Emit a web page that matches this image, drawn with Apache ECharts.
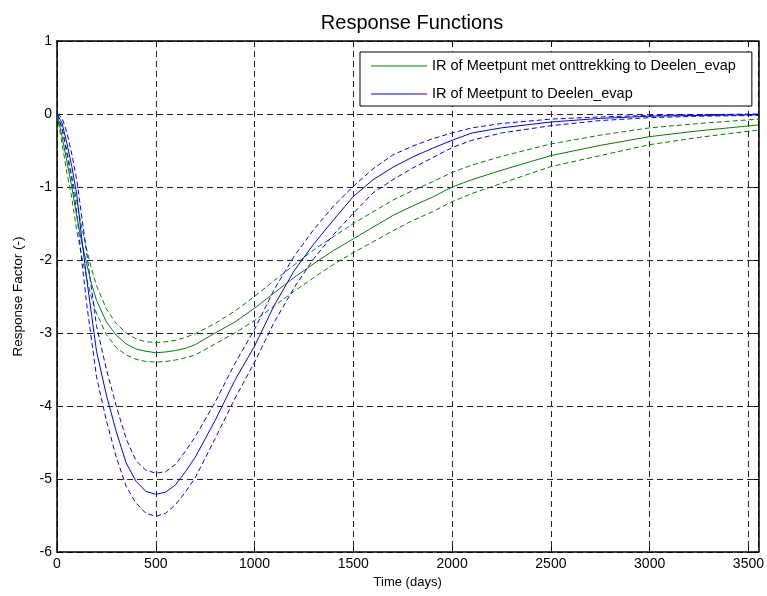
<!DOCTYPE html>
<html>
<head>
<meta charset="utf-8">
<script src="https://cdn.jsdelivr.net/npm/echarts@6/dist/echarts.min.js"></script>
<style>
  html, body { margin: 0; padding: 0; background: #fff; }
  #chart { width: 767px; height: 596px; }
</style>
</head>
<body>
<div id="chart"></div>
<script>
// Time axis of the impulse responses (days)
const days = [0, 25, 50, 75, 100, 125, 150, 175, 200, 250, 300, 350, 400, 450, 500, 550, 600, 650, 700,
  800, 900, 1000, 1100, 1200, 1300, 1400, 1500, 1600, 1700, 1800, 1900, 2000, 2100, 2250, 2500, 2750, 3000, 3250, 3550];

// IR of Meetpunt met onttrekking to Deelen_evap (mean and confidence bounds)
const irMetOnttrekking = [0, -0.3, -0.65, -1.0, -1.4, -1.75, -2.05, -2.33, -2.55, -2.85, -3.03, -3.15, -3.22, -3.25, -3.27, -3.26, -3.24, -3.21, -3.16,
  -3.0, -2.85, -2.66, -2.45, -2.24, -2.05, -1.87, -1.71, -1.55, -1.39, -1.26, -1.14, -1.0, -0.9, -0.77, -0.57, -0.43, -0.31, -0.23, -0.15];
const irMetOnttrekkingUpper = [0, -0.2, -0.5, -0.85, -1.2, -1.55, -1.85, -2.12, -2.35, -2.67, -2.87, -3.0, -3.08, -3.12, -3.13, -3.12, -3.1, -3.06, -3.01,
  -2.87, -2.7, -2.5, -2.28, -2.07, -1.86, -1.68, -1.5, -1.34, -1.18, -1.05, -0.93, -0.8, -0.7, -0.58, -0.41, -0.29, -0.19, -0.13, -0.07];
const irMetOnttrekkingLower = [0, -0.4, -0.8, -1.15, -1.6, -1.95, -2.25, -2.52, -2.73, -3.02, -3.2, -3.3, -3.36, -3.39, -3.4, -3.39, -3.37, -3.34, -3.3,
  -3.15, -3.0, -2.83, -2.63, -2.43, -2.24, -2.06, -1.9, -1.75, -1.6, -1.46, -1.34, -1.2, -1.09, -0.95, -0.72, -0.57, -0.42, -0.32, -0.22];

// IR of Meetpunt to Deelen_evap (mean and confidence bounds)
const irMeetpunt = [0, -0.12, -0.4, -0.72, -1.1, -1.7, -2.25, -2.75, -3.25, -3.85, -4.35, -4.78, -5.03, -5.17, -5.21, -5.18, -5.08, -4.9, -4.7,
  -4.2, -3.65, -3.18, -2.62, -2.15, -1.78, -1.45, -1.13, -0.9, -0.73, -0.59, -0.47, -0.36, -0.26, -0.19, -0.11, -0.06, -0.03, -0.02, -0.01];
const irMeetpuntUpper = [0, -0.05, -0.25, -0.55, -0.9, -1.4, -1.9, -2.4, -2.9, -3.5, -4.0, -4.45, -4.75, -4.88, -4.92, -4.9, -4.8, -4.62, -4.42,
  -3.95, -3.42, -2.95, -2.4, -1.95, -1.58, -1.26, -0.99, -0.75, -0.56, -0.44, -0.34, -0.26, -0.19, -0.13, -0.07, -0.04, -0.02, -0.01, 0];
const irMeetpuntLower = [0, -0.18, -0.55, -0.9, -1.35, -2.0, -2.6, -3.1, -3.6, -4.2, -4.7, -5.1, -5.33, -5.47, -5.51, -5.47, -5.35, -5.18, -4.98,
  -4.45, -3.9, -3.4, -2.85, -2.38, -1.98, -1.65, -1.36, -1.08, -0.9, -0.74, -0.6, -0.46, -0.36, -0.26, -0.16, -0.09, -0.05, -0.03, -0.02];

const xTicks = [0, 500, 1000, 1500, 2000, 2500, 3000, 3500];
const yTicks = [1, 0, -1, -2, -3, -4, -5, -6];

const nameA = 'IR of Meetpunt met onttrekking to Deelen_evap';
const nameB = 'IR of Meetpunt to Deelen_evap';
const GREEN = '#008000';
const BLUE = '#0000ff';
const FONT = '"Liberation Sans", Arial, sans-serif';

const pairs = vals => days.map((d, i) => [d, vals[i]]);

function line(name, vals, color, dashed) {
  return {
    name, type: 'line', data: pairs(vals), showSymbol: false, symbol: 'none',
    xAxisIndex: 0, yAxisIndex: 0,
    lineStyle: { color, width: 1, type: dashed ? [5, 3] : 'solid' },
    itemStyle: { color },
    emphasis: { disabled: true },
    z: dashed ? 3 : 4
  };
}

const chart = echarts.init(document.getElementById('chart'), null, { renderer: 'canvas' });

// Top and right edges of the axes box, ticks only
const tickOnly = (pos, isX) => ({
  type: 'value', position: pos,
  min: isX ? 0 : -6, max: isX ? 3550 : 1, interval: isX ? 500 : 1,
  axisLine: { show: true, onZero: false, lineStyle: { color: '#000', width: 1.5 } },
  axisTick: { show: true, inside: true, length: 5, lineStyle: { color: '#000' } },
  axisLabel: { show: false },
  splitLine: { show: false }
});

chart.setOption({
  animation: false,
  backgroundColor: '#fff',
  textStyle: { fontFamily: FONT },
  title: {
    text: 'Response Functions', left: 407, top: 8, textAlign: 'center',
    textStyle: { fontFamily: FONT, fontSize: 20, fontWeight: 'normal', color: '#000' }
  },
  legend: {
    data: [
      { name: nameA, icon: 'rect', itemStyle: { color: GREEN } },
      { name: nameB, icon: 'rect', itemStyle: { color: BLUE } }
    ],
    orient: 'vertical', left: 360, top: 52,
    backgroundColor: '#fff', borderColor: '#000', borderWidth: 1,
    padding: [6, 16, 4, 11], itemGap: 12, itemWidth: 56, itemHeight: 1,
    textStyle: { fontFamily: FONT, fontSize: 14.5, color: '#000', lineHeight: 16 },
    selectedMode: false
  },
  grid: { left: 57, right: 7, top: 41, bottom: 44, containLabel: false },
  xAxis: [
    {
      type: 'value', position: 'bottom', min: 0, max: 3550, interval: 500,
      name: 'Time (days)', nameLocation: 'middle', nameGap: 23,
      nameTextStyle: { fontFamily: FONT, fontSize: 13, color: '#000' },
      axisLine: { show: true, onZero: false, lineStyle: { color: '#000', width: 1.5 } },
      axisTick: { show: true, inside: true, length: 5, lineStyle: { color: '#000' } },
      axisLabel: {
        fontFamily: FONT, fontSize: 14, color: '#000', margin: 5,
        showMaxLabel: false,
        formatter: v => (xTicks.includes(v) ? String(v) : '')
      },
      splitLine: { show: true, lineStyle: { color: '#222', width: 1, type: [6, 4] } }
    },
    tickOnly('top', true)
  ],
  yAxis: [
    {
      type: 'value', position: 'left', min: -6, max: 1, interval: 1,
      name: 'Response Factor (-)', nameLocation: 'middle', nameGap: 32, nameRotate: 90,
      nameTextStyle: { fontFamily: FONT, fontSize: 13.5, color: '#000' },
      axisLine: { show: true, onZero: false, lineStyle: { color: '#000', width: 1.5 } },
      axisTick: { show: true, inside: true, length: 5, lineStyle: { color: '#000' } },
      axisLabel: {
        fontFamily: FONT, fontSize: 14, color: '#000', margin: 5,
        formatter: v => (yTicks.includes(v) ? String(v) : '')
      },
      splitLine: { show: true, lineStyle: { color: '#222', width: 1, type: [6, 4] } }
    },
    tickOnly('right', false)
  ],
  series: [
    line(nameA, irMetOnttrekking, GREEN, false),
    line('upperA', irMetOnttrekkingUpper, GREEN, true),
    line('lowerA', irMetOnttrekkingLower, GREEN, true),
    line(nameB, irMeetpunt, BLUE, false),
    line('upperB', irMeetpuntUpper, BLUE, true),
    line('lowerB', irMeetpuntLower, BLUE, true)
  ]
});
</script>
</body>
</html>
